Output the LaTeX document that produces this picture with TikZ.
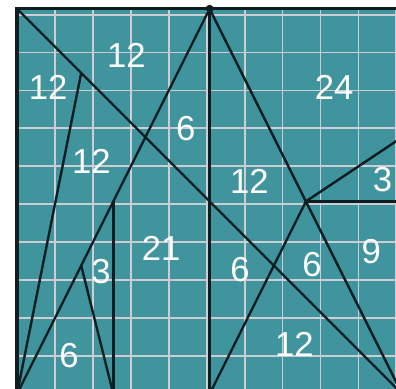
\documentclass[tikz,border=0pt]{standalone}
\usepackage{fontspec}
\setmainfont{Liberation Sans}
\definecolor{teal1}{RGB}{64,148,158}
\definecolor{gridc}{RGB}{205,205,212}
\definecolor{inkc}{RGB}{12,30,34}
\tikzset{
  gridline/.style={draw=gridc, line width=1.4pt},
  cut/.style={draw=inkc, line width=1.8pt},
  edge/.style={draw=inkc, line width=2.4pt},
  lab/.style={text=white, font=\fontsize{26}{26}\selectfont, inner sep=0pt, anchor=center}
}
\begin{document}
\begin{tikzpicture}[x=24.075pt,y=24.075pt]
\useasboundingbox (-0.5296,0.156) rectangle (11.807,12.274);
\clip (-0.5296,0.156) rectangle (11.807,12.274);
\fill[white] (-0.5296,0.156) rectangle (11.807,12.274);
\fill[teal1] (0,0) rectangle (12,12);
\draw[gridline] (0,0) grid (12,12);
% vertices
\coordinate (TL) at (0,12);
\coordinate (TR) at (12,12);
\coordinate (A) at (6,12);
\coordinate (BL) at (0,0);
\coordinate (BR) at (12,0);
\coordinate (P) at (2,10);
\coordinate (R) at (3,6);
\coordinate (S) at (2,4);
\coordinate (T) at (3,0);
\coordinate (U) at (6,0);
\coordinate (V) at (9,6);
\coordinate (W) at (12,6);
\coordinate (X) at (12,8);
% cuts
\draw[cut] (TL) -- (BR);
\draw[cut] (P) -- (BL);
\draw[cut] (A) -- (BL);
\draw[cut] (R) -- (T);
\draw[cut] (S) -- (T);
\draw[cut] (A) -- (U);
\draw[cut] (A) -- (BR);
\draw[cut] (V) -- (W);
\draw[cut] (V) -- (X);
\draw[cut] (V) -- (U);
% border
\draw[edge] (BL) -- (TL) -- (TR);
\fill[inkc] (A) circle (3pt);
% labels
\node[lab] (l1) at (3.41,10.55) {12};
\node[lab] (l2) at (0.97,9.55) {12};
\node[lab] (l3) at (5.26,8.26) {6};
\node[lab] (l4) at (2.32,7.24) {12};
\node[lab] (l5) at (9.88,9.55) {24};
\node[lab] (l6) at (7.24,6.62) {12};
\node[lab] (l7) at (11.39,6.68) {3};
\node[lab] (l8) at (4.49,4.53) {21};
\node[lab] (l9) at (2.62,3.82) {3};
\node[lab] (l10) at (1.62,1.21) {6};
\node[lab] (l11) at (6.95,3.88) {6};
\node[lab] (l12) at (9.19,4.03) {6};
\node[lab] (l13) at (11.04,4.44) {9};
\node[lab] (l14) at (8.64,1.54) {12};
\end{tikzpicture}
\end{document}
